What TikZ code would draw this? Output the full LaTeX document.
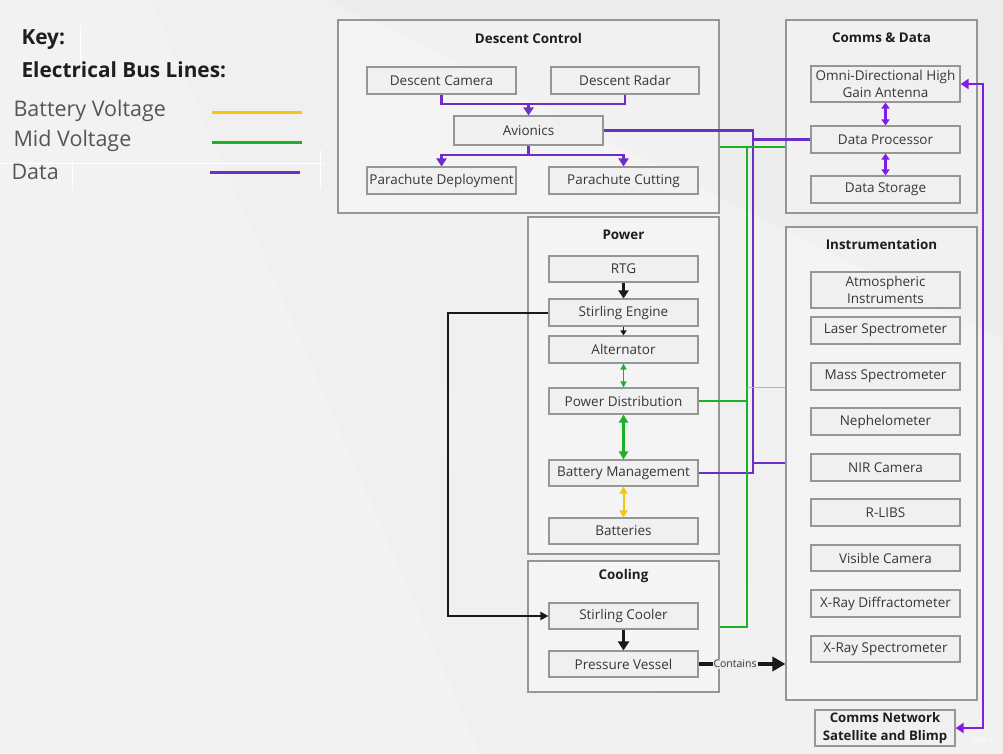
\documentclass[tikz,border=0pt]{standalone}
\usepackage{fontspec}
\setmainfont{Open Sans}
\usetikzlibrary{arrows.meta}
\definecolor{bgc}{RGB}{236,236,236}
\definecolor{bgl}{RGB}{243,243,243}
\definecolor{boxgray}{RGB}{150,150,150}
\definecolor{boxfill}{RGB}{240,240,240}
\definecolor{txt}{RGB}{55,55,55}
\definecolor{ttl}{RGB}{30,30,30}
\definecolor{keytxt}{RGB}{85,85,85}
\definecolor{dpurple}{RGB}{108,46,196}
\definecolor{vpurple}{RGB}{128,28,232}
\definecolor{bgreen}{RGB}{30,176,40}
\definecolor{byellow}{RGB}{248,196,20}
\definecolor{blk}{RGB}{25,25,25}
\tikzset{
  box/.style={draw=boxgray, line width=1.1pt, fill=boxfill, minimum width=149pt, minimum height=27pt, inner sep=1pt, text=txt, align=center, font=\fontsize{13.5}{17.5}\selectfont},
  grp/.style={draw=boxgray, line width=1.1pt, fill=white, fill opacity=0.3, inner sep=0pt},
  grptitle/.style={text=ttl, font=\fontsize{13.4}{15}\selectfont\bfseries},
  keyhead/.style={text=ttl, anchor=west, font=\fontsize{20.8}{24}\selectfont\bfseries},
  keyitem/.style={text=keytxt, anchor=west, font=\fontsize{21.5}{25}\selectfont},
  dataline/.style={draw=dpurple, line width=2.4pt},
  vline/.style={draw=vpurple, line width=2.4pt},
  gline/.style={draw=bgreen, line width=2.4pt},
  bline/.style={draw=blk, line width=2pt},
  dtip/.style={-{Triangle[width=10pt,length=8pt]}},
  vtip/.style={{Triangle[width=10pt,length=8pt]}-{Triangle[width=10pt,length=8pt]}},
  vdbl/.style={draw=vpurple, line width=2.2pt, {Triangle[width=8pt,length=6pt]}-{Triangle[width=8pt,length=6pt]}},
}
\begin{document}
\begin{tikzpicture}[x=1pt,y=-1pt]
% background
\fill[bgc] (0,0) rectangle (1003,754);
\useasboundingbox (0,0) rectangle (1003,754);
\fill[bgl] (0,754) -- (0,470) -- (270,270) -- (480,754) -- cycle;
\fill[bgl, opacity=0.7] (270,270) -- (1003,754) -- (480,754) -- cycle;
\fill[bgl, opacity=0.6] (330,0) -- (1003,340) -- (1003,754) -- (720,754) -- (270,270) -- (150,0) -- cycle;
\fill[white, opacity=0.35] (0,0) -- (150,0) -- (270,270) -- (0,470) -- cycle;
% faint white grid lines in the key
\draw[white, line width=0.8pt] (80,25) -- (80,75);
\draw[white, line width=0.8pt] (72,160) -- (72,190);
\draw[white, line width=0.8pt] (320,150) -- (320,190);
\draw[white, line width=0.8pt] (0,163) -- (325,163);

% key
\node[keyhead] (kkey) at (18,40) {Key:};
\node[keyhead] (kbus) at (18,70) {Electrical Bus Lines:};
\node[keyitem] (kbat) at (10,111) {Battery Voltage};
\node[keyitem] (kmid) at (10,141) {Mid Voltage};
\node[keyitem] (kdat) at (8,172) {Data};
\coordinate (kb1) at (212,113); \coordinate (kb2) at (302,113);
\coordinate (km1) at (212,143); \coordinate (km2) at (302,143);
\coordinate (kd1) at (210,173); \coordinate (kd2) at (300,173);
\draw[draw=byellow, line width=3pt] (kb1) -- (kb2);
\draw[draw=bgreen, line width=3pt] (km1) -- (km2);
\draw[draw=dpurple, line width=3pt] (kd1) -- (kd2);

% groups
\node[grp, minimum width=381pt, minimum height=193pt] (gdesc) at (528.5,116.5) {};
\node[grp, minimum width=191pt, minimum height=193pt] (gcomm) at (881.5,116.5) {};
\node[grp, minimum width=191pt, minimum height=337pt] (gpow) at (623.5,385.5) {};
\node[grp, minimum width=191pt, minimum height=131pt] (gcool) at (623.5,626.5) {};
\node[grp, minimum width=191pt, minimum height=473pt] (ginst) at (881.5,463.5) {};

\node[grptitle] (tdesc) at (528.5,38) {Descent Control};
\node[grptitle] (tcomm) at (881.5,38) {Comms \& Data};
\node[grptitle] (tpow) at (623.5,235) {Power};
\node[grptitle] (tcool) at (623.5,576) {Cooling};
\node[grptitle] (tinst) at (881.5,244) {Instrumentation};

% descent control
\node[box] (dcam) at (441.5,80.5) {Descent Camera};
\node[box, minimum width=148pt] (drad) at (625,80.5) {Descent Radar};
\node[box, minimum height=29pt] (avi) at (528.5,130.5) {Avionics};
\node[box] (pdep) at (441.5,180.5) {Parachute Deployment};
\node[box] (pcut) at (623.5,180.5) {Parachute Cutting};

% comms & data
\node[box, minimum height=36pt] (ant) at (885.5,84) {Omni-Directional High\\Gain Antenna};
\node[box] (dproc) at (885.5,139.5) {Data Processor};
\node[box] (dstor) at (885.5,189.5) {Data Storage};

% power
\node[box, minimum height=26pt] (rtg) at (623.5,269) {RTG};
\node[box] (seng) at (623.5,312.5) {Stirling Engine};
\node[box] (alt) at (623.5,349.5) {Alternator};
\node[box, minimum height=26pt] (pdist) at (623.5,401) {Power Distribution};
\node[box, minimum height=26pt] (bman) at (623.5,473) {Battery Management};
\node[box, minimum height=26pt] (batt) at (623.5,531) {Batteries};

% cooling
\node[box, minimum height=26pt] (scool) at (623.5,616) {Stirling Cooler};
\node[box, minimum height=26pt] (pves) at (623.5,664) {Pressure Vessel};

% instrumentation
\node[box, minimum height=36pt] (atmo) at (885.5,290) {Atmospheric\\Instruments};
\node[box] (laser) at (885.5,330.5) {Laser Spectrometer};
\node[box] (mass) at (885.5,376.5) {Mass Spectrometer};
\node[box] (neph) at (885.5,421.5) {Nephelometer};
\node[box] (nir) at (885.5,467.5) {NIR Camera};
\node[box] (rlibs) at (885.5,512.5) {R-LIBS};
\node[box, minimum height=26pt] (vcam) at (885.5,558) {Visible Camera};
\node[box] (xrd) at (885.5,603.5) {X-Ray Diffractometer};
\node[box, minimum height=26pt] (xrs) at (885.5,649) {X-Ray Spectrometer};

% comms network
\node[box, minimum width=140pt, minimum height=36pt, text=ttl, font=\fontsize{13.2}{18}\selectfont\bfseries, line width=1.3pt] (cnet) at (885,728) {Comms Network\\Satellite and Blimp};

% miro watermark
\node[text=white, font=\fontsize{9}{10}\selectfont] (miro) at (983,740) {miro};

% descent control data lines
\coordinate (dmerge) at (528.5,104);
\coordinate (dsplit) at (528.5,155);
\draw[dataline] (dcam.south) |- (dmerge) -| (drad.south);
\draw[dataline, dtip] (dmerge) -- (avi.north);
\draw[dataline] (avi.south) -- (dsplit);
\draw[dataline, dtip] (dsplit) -| (pdep.north);
\draw[dataline, dtip] (dsplit) -| (pcut.north);

% purple data bus
\coordinate (pb1) at (753,130.5);
\coordinate (pb2) at (753,473);
\coordinate (pb3) at (753,139.5);
\coordinate (pb4) at (753,463);
\draw[dataline] (avi.east) -- (pb1) -- (pb2) -- (bman.east);
\draw[dataline] (pb3) -- (dproc.west);
\draw[dataline] (pb4) -- (pb4 -| ginst.west);

% green bus
\coordinate (gb) at (747,147);
\coordinate (gv2) at (747,627);
\coordinate (gthin) at (747,387);
\draw[gline] (gb -| gdesc.east) -- (gb -| gcomm.west);
\draw[gline] (gb) -- (gv2) -- (gv2 -| gcool.east);
\draw[gline] (pdist.east) -- (pdist.east -| gb);
\draw[draw=bgreen!55, line width=0.8pt] (gthin) -- (gthin -| ginst.west);

% antenna to comms network
\coordinate (rv1) at (983,84);
\coordinate (rv2) at (983,728);
\draw[vline, vtip] (ant.east) -- (rv1) -- (rv2) -- (cnet.east);

% comms double arrows
\draw[vdbl] (ant.south) -- (dproc.north);
\draw[vdbl] (dproc.south) -- (dstor.north);

% power arrows
\draw[draw=blk, line width=2.8pt, -{Triangle[width=10pt,length=8pt]}] (rtg.south) -- (seng.north);
\draw[draw=blk, line width=1.4pt, -{Triangle[width=6pt,length=5pt]}] (seng.south) -- (alt.north);
\draw[draw=bgreen, line width=1.3pt, {Triangle[width=6pt,length=6pt]}-{Triangle[width=6pt,length=6pt]}] (alt.south) -- (pdist.north);
\draw[draw=bgreen, line width=2.4pt, {Triangle[width=9pt,length=8pt]}-{Triangle[width=9pt,length=8pt]}] (pdist.south) -- (bman.north);
\draw[draw=byellow, line width=2pt, {Triangle[width=8pt,length=7pt]}-{Triangle[width=8pt,length=7pt]}] (bman.south) -- (batt.north);

% stirling engine to cooler
\coordinate (bl) at (448,312.5);
\draw[bline, -{Triangle[width=8pt,length=8pt]}] (seng.west) -- (bl) |- (scool.west);

% cooling arrows
\draw[draw=blk, line width=3pt, -{Triangle[width=11pt,length=9pt]}] (scool.south) -- (pves.north);
\draw[draw=blk, line width=3.5pt, -{Triangle[width=14pt,length=13pt]}] (pves.east) -- node[pos=0.42, fill=bgc, inner sep=1pt, text=txt, font=\fontsize{10.5}{11}\selectfont] (lcont) {Contains} (pves.east -| ginst.west);
\end{tikzpicture}
\end{document}
